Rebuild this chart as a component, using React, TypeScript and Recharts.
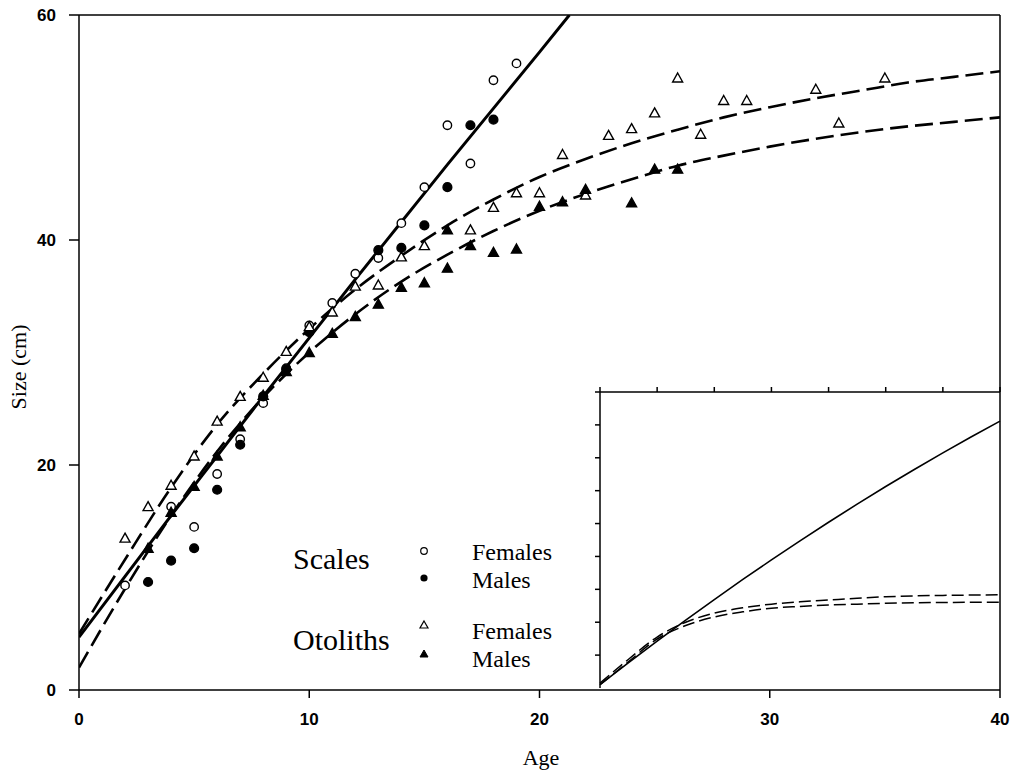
import React from 'react'
import { ComposedChart, LineChart, Line, Scatter, XAxis, YAxis, ReferenceLine } from 'recharts'

const scaleFemales = [
  { age: 2, size: 9.3 }, { age: 4, size: 16.3 }, { age: 5, size: 14.5 }, { age: 6, size: 19.2 },
  { age: 7, size: 22.3 }, { age: 8, size: 25.5 }, { age: 9, size: 28.6 }, { age: 10, size: 32.4 },
  { age: 11, size: 34.4 }, { age: 12, size: 37.0 }, { age: 13, size: 38.4 }, { age: 14, size: 41.5 },
  { age: 15, size: 44.7 }, { age: 16, size: 50.2 }, { age: 17, size: 46.8 }, { age: 18, size: 54.2 },
  { age: 19, size: 55.7 },
]

const scaleMales = [
  { age: 3, size: 9.6 }, { age: 4, size: 11.5 }, { age: 5, size: 12.6 }, { age: 6, size: 17.8 },
  { age: 7, size: 21.8 }, { age: 8, size: 26.1 }, { age: 9, size: 28.5 }, { age: 10, size: 31.8 },
  { age: 13, size: 39.1 }, { age: 14, size: 39.3 }, { age: 15, size: 41.3 }, { age: 16, size: 44.7 },
  { age: 17, size: 50.2 }, { age: 18, size: 50.7 },
]

const otolithFemales = [
  { age: 2, size: 13.5 }, { age: 3, size: 16.3 }, { age: 4, size: 18.2 }, { age: 5, size: 20.8 },
  { age: 6, size: 23.9 }, { age: 7, size: 26.1 }, { age: 8, size: 27.8 }, { age: 9, size: 30.1 },
  { age: 10, size: 32.3 }, { age: 11, size: 33.6 }, { age: 12, size: 35.9 }, { age: 13, size: 36.0 },
  { age: 14, size: 38.5 }, { age: 15, size: 39.5 }, { age: 17, size: 40.9 }, { age: 18, size: 42.9 },
  { age: 19, size: 44.2 }, { age: 20, size: 44.2 }, { age: 21, size: 47.6 }, { age: 22, size: 44.0 },
  { age: 23, size: 49.3 }, { age: 24, size: 49.9 }, { age: 25, size: 51.3 }, { age: 26, size: 54.4 },
  { age: 27, size: 49.4 }, { age: 28, size: 52.4 }, { age: 29, size: 52.4 }, { age: 32, size: 53.4 },
  { age: 33, size: 50.4 }, { age: 35, size: 54.4 },
]

const otolithMales = [
  { age: 3, size: 12.6 }, { age: 4, size: 15.8 }, { age: 5, size: 18.1 }, { age: 6, size: 20.8 },
  { age: 7, size: 23.4 }, { age: 8, size: 26.2 }, { age: 9, size: 28.3 }, { age: 10, size: 30.0 },
  { age: 11, size: 31.7 }, { age: 12, size: 33.2 }, { age: 13, size: 34.3 }, { age: 14, size: 35.8 },
  { age: 15, size: 36.2 }, { age: 16, size: 37.5 }, { age: 16, size: 40.9 }, { age: 17, size: 39.5 },
  { age: 18, size: 38.9 }, { age: 19, size: 39.2 }, { age: 20, size: 43.0 }, { age: 21, size: 43.4 },
  { age: 22, size: 44.5 }, { age: 24, size: 43.3 }, { age: 25, size: 46.3 }, { age: 26, size: 46.3 },
]

// fitted growth curves
const scaleFitAges = [0, 2, 4, 6, 8, 10, 12, 14, 16, 18, 20, 21.3]
const scaleFitSizes = [4.7, 10.1, 15.5, 20.8, 26.1, 31.3, 36.5, 41.6, 46.7, 51.7, 56.7, 60]

const otoFitAges = [0, 2, 4, 6, 8, 10, 12, 14, 16, 18, 20, 22, 24, 26, 28, 30, 32, 34, 36, 38, 40]
const otoFemaleFit = [5.0, 11.6, 18.0, 23.6, 28.1, 32.1, 35.6, 38.6, 41.3, 43.6, 45.6, 47.2, 48.6, 49.8, 50.9, 51.8, 52.6, 53.3, 54.0, 54.5, 55.0]
const otoMaleFit = [2.0, 9.0, 15.5, 21.2, 26.0, 30.0, 33.4, 36.3, 38.7, 40.8, 42.6, 44.1, 45.4, 46.6, 47.5, 48.3, 49.0, 49.6, 50.1, 50.5, 50.9]

// inset: same curves over a longer age range
const insetAges = [0, 5, 10, 15, 20, 25, 30, 35, 40, 45, 50, 55, 60, 65, 70]
const insetScales = [2, 15.4, 28.5, 41.3, 53.8, 66.0, 77.9, 89.5, 100.8, 111.8, 122.5, 132.9, 143.0, 152.8, 162.3]
const insetOtoFemales = [3, 17.5, 31, 40, 45.5, 48.8, 51, 52.4, 53.5, 54.6, 55.5, 56.0, 56.3, 56.5, 56.7]
const insetOtoMales = [2, 16, 29.8, 38, 43.2, 46.3, 48.5, 49.6, 50.5, 51.0, 51.5, 51.8, 52, 52.1, 52.2]

const zip = (ages: number[], sizes: number[]) => ages.map((age, i) => ({ age, size: sizes[i] }))

const serif = "'Liberation Serif', 'Times New Roman', serif"
const sans = "'Liberation Sans', Arial, sans-serif"

const circle = (filled: boolean) => (props: any) => {
  const { cx, cy } = props
  if (cx == null || cy == null) return <g />
  return <circle cx={cx} cy={cy} r={filled ? 4.4 : 4.2} fill={filled ? '#000' : '#fff'} stroke="#000" strokeWidth={1.4} />
}

const triangle = (filled: boolean) => (props: any) => {
  const { cx, cy } = props
  if (cx == null || cy == null) return <g />
  const s = 5
  return (
    <polygon
      points={`${cx},${cy - s} ${cx + s},${cy + s * 0.8} ${cx - s},${cy + s * 0.8}`}
      fill={filled ? '#000' : '#fff'}
      stroke="#000"
      strokeWidth={1.4}
      strokeLinejoin="miter"
    />
  )
}

// inset axes keep their tick marks but show no numbers
const NoLabel = () => <g />

const tickFont = { fontFamily: sans, fontWeight: 700, fontSize: 17, fill: '#000' }

function App() {
  return (
    <div style={{ position: 'absolute', left: 0, top: 0, width: 1015, height: 775, background: '#fff' }}>
      <ComposedChart width={1015} height={775} margin={{ top: 15, right: 15, bottom: 0, left: 0 }}>
        <XAxis
          dataKey="age"
          type="number"
          domain={[0, 40]}
          ticks={[0, 10, 20, 30, 40]}
          allowDataOverflow
          height={85}
          tickSize={8}
          tickMargin={15}
          stroke="#000"
          strokeWidth={1.5}
          tick={tickFont}
        />
        <YAxis
          dataKey="size"
          type="number"
          domain={[0, 60]}
          ticks={[0, 20, 40, 60]}
          allowDataOverflow
          width={79}
          tickSize={10}
          tickMargin={13}
          stroke="#000"
          strokeWidth={1.5}
          tick={tickFont}
        />
        <ReferenceLine y={60} stroke="#000" strokeWidth={1.5} />
        <ReferenceLine x={40} stroke="#000" strokeWidth={1.5} />
        <Line data={zip(scaleFitAges, scaleFitSizes)} dataKey="size" type="monotone" stroke="#000" strokeWidth={3} dot={false} isAnimationActive={false} />
        <Line data={zip(otoFitAges, otoFemaleFit)} dataKey="size" type="monotone" stroke="#000" strokeWidth={2.6} strokeDasharray="18 7" dot={false} isAnimationActive={false} />
        <Line data={zip(otoFitAges, otoMaleFit)} dataKey="size" type="monotone" stroke="#000" strokeWidth={2.6} strokeDasharray="18 7" dot={false} isAnimationActive={false} />
        <Scatter data={scaleFemales} dataKey="size" shape={circle(false)} isAnimationActive={false} />
        <Scatter data={scaleMales} dataKey="size" shape={circle(true)} isAnimationActive={false} />
        <Scatter data={otolithFemales} dataKey="size" shape={triangle(false)} isAnimationActive={false} />
        <Scatter data={otolithMales} dataKey="size" shape={triangle(true)} isAnimationActive={false} />
      </ComposedChart>

      <div style={{ position: 'absolute', left: 590, top: 380, width: 411, height: 309 }}>
        <LineChart width={411} height={309} margin={{ top: 0, right: 1, bottom: 1, left: 0 }}>
          <XAxis dataKey="age" type="number" orientation="top" domain={[0, 70]} ticks={[0, 10, 20, 30, 40, 50, 60, 70]} height={12} tickSize={5} tick={<NoLabel />} stroke="#000" strokeWidth={1.5} />
          <YAxis type="number" domain={[0, 180]} ticks={[0, 20, 40, 60, 80, 100, 120, 140, 160, 180]} width={10} tickSize={5} tick={<NoLabel />} stroke="#000" strokeWidth={1.5} />
          <Line data={zip(insetAges, insetScales)} dataKey="size" type="monotone" stroke="#000" strokeWidth={1.6} dot={false} isAnimationActive={false} />
          <Line data={zip(insetAges, insetOtoFemales)} dataKey="size" type="monotone" stroke="#000" strokeWidth={1.5} strokeDasharray="12 5" dot={false} isAnimationActive={false} />
          <Line data={zip(insetAges, insetOtoMales)} dataKey="size" type="monotone" stroke="#000" strokeWidth={1.5} strokeDasharray="12 5" dot={false} isAnimationActive={false} />
        </LineChart>
      </div>

      <svg width={1015} height={775} style={{ position: 'absolute', left: 0, top: 0, pointerEvents: 'none' }}>
        <text x={18} y={367} transform="rotate(-90 18 367)" textAnchor="middle" dominantBaseline="central" fontFamily={serif} fontSize={22} fill="#000">Size (cm)</text>
        <text x={541} y={765} textAnchor="middle" fontFamily={serif} fontSize={22} fill="#000">Age</text>

        <text x={293} y={569} fontFamily={serif} fontSize={30} fill="#000">Scales</text>
        <text x={293} y={650} fontFamily={serif} fontSize={30} fill="#000">Otoliths</text>
        <text x={472} y={560} fontFamily={serif} fontSize={24} fill="#000">Females</text>
        <text x={472} y={588} fontFamily={serif} fontSize={24} fill="#000">Males</text>
        <text x={472} y={639} fontFamily={serif} fontSize={24} fill="#000">Females</text>
        <text x={472} y={667} fontFamily={serif} fontSize={24} fill="#000">Males</text>

        <circle cx={424} cy={551} r={3.3} fill="#fff" stroke="#000" strokeWidth={1.2} />
        <circle cx={424} cy={578} r={3.6} fill="#000" />
        <polygon points="424,621 428,628 420,628" fill="#fff" stroke="#000" strokeWidth={1.2} />
        <polygon points="424,650 428,657 420,657" fill="#000" stroke="#000" strokeWidth={1} />
      </svg>
    </div>
  )
}

export default App
